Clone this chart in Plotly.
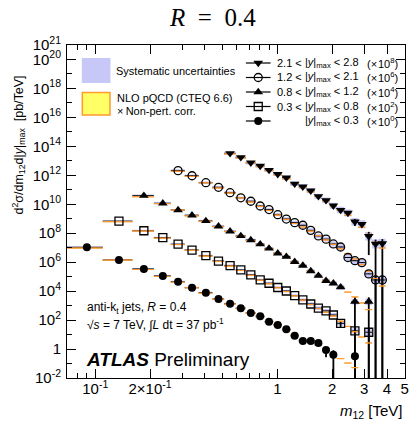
import math
import plotly.graph_objects as go

# ---------------- data ----------------
# dijet-mass bin edges [TeV]
edges = [0.07, 0.11, 0.16, 0.21, 0.26, 0.31, 0.37, 0.44, 0.51, 0.59, 0.67, 0.76,
         0.85, 0.95, 1.06, 1.18, 1.31, 1.45, 1.60, 1.76, 1.94, 2.12, 2.33, 2.55,
         2.78, 3.04, 3.31, 3.61, 3.93]

# rapidity bins (index 0 = central) and display scale exponents
y_low = [None, 0.3, 0.8, 1.2, 2.1]
y_high = [0.3, 0.8, 1.2, 2.1, 2.8]
scale_exp = [0, 2, 4, 6, 8]
first_bin = [0, 1, 2, 4, 8]

# measured cross sections d2sigma/dm12 d|y|max [pb/TeV] (unscaled), None = empty bin
xs_y00 = [1.07e7, 1.41e6, 3.4e5, 1.12e5, 4.5e4, 1.74e4, 7.8e3, 2.9e3, 1.35e3, 660, 310,
          182, 78, 46, 23, 8.3, 3.6, 3.6, 2.6, 0.87, 0.41, None, None, 0.32]
xs_y03 = [6.8e6, 1.48e6, 4.9e5, 1.74e5, 6.9e4, 2.8e4, 1.2e4, 5.8e3, 2.9e3, 1.32e3, 590,
          350, 178, 102, 49, 24.5, 12.9, 6.6, 4.3, 2.24, 0.60, None, 0.18, None, 0.145]
xs_y08 = [3.9e6, 1.17e6, 4.0e5, 1.74e5, 7.1e4, 3.0e4, 1.35e4, 6.5e3, 3.4e3, 1.74e3, 890,
          410, 240, 107, 58, 24.5, 11.7, 5.2, 3.5, 1.86, None, 0.186, None, 0.186]
xs_y12 = [2.1e6, 9.3e5, 3.1e5, 1.48e5, 6.3e4, 2.8e4, 1.62e4, 7.6e3, 4.3e3, 1.9e3, 955,
          537, 355, 158, 65, 39, 18.2, 11.2, 2.1, 1.26, 0.93, 0.155, 0.059, 0.059]
xs_y21 = [3.3e5, 1.74e5, 7.4e4, 4.4e4, 2.3e4, 1.2e4, 6.8e3, 2.6e3, 1.62e3, 870, 355,
          186, 79, 40, 25, 6.3, 4.2, 0.62, 0.18, 0.195]

# NLO pQCD (CTEQ 6.6) x non-perturbative corrections (unscaled)
nlo_y00 = [1.0e7, 1.45e6, 3.3e5, 1.1e5, 4.4e4, 1.8e4, 7.6e3, 3.0e3, 1.35e3, 650, 320,
           175, 82, 44, 22, 9.5, 4.6, 3.2, 2.0, 1.0, 0.5, 0.23, 0.115, 0.055]
nlo_y03 = [6.6e6, 1.5e6, 4.8e5, 1.75e5, 7.0e4, 2.8e4, 1.2e4, 5.7e3, 2.8e3, 1.3e3, 600,
           340, 180, 98, 50, 25, 12.5, 6.6, 3.7, 2.0, 0.89, 0.39, 0.166, 0.072, 0.028]
nlo_y08 = [3.5e6, 1.17e6, 4.2e5, 1.66e5, 7.1e4, 3.0e4, 1.38e4, 6.6e3, 3.3e3, 1.66e3, 850,
           430, 220, 110, 55, 27, 12.6, 6.0, 3.2, 1.78, 0.91, 0.42, 0.162, 0.056]
nlo_y12 = [2.0e6, 8.9e5, 3.2e5, 1.41e5, 6.3e4, 2.95e4, 1.51e4, 7.6e3, 4.0e3, 1.9e3, 955,
           500, 282, 148, 72, 36, 18.2, 8.9, 4.0, 1.78, 0.71, 0.25, 0.079, 0.024]
nlo_y21 = [3.2e5, 1.66e5, 7.9e4, 4.2e4, 2.2e4, 1.15e4, 6.0e3, 3.0e3, 1.51e3, 760, 372,
           178, 83, 40, 18.6, 7.9, 2.8, 0.89, 0.25, 0.1]

# relative systematic uncertainty per mass bin, and per-rapidity-bin multiplier
syst_rel = [0.15, 0.15, 0.15, 0.15, 0.15, 0.15, 0.15, 0.15, 0.16, 0.16, 0.17, 0.18,
            0.19, 0.2, 0.21, 0.23, 0.25, 0.27, 0.29, 0.31, 0.34, 0.37, 0.4, 0.45,
            0.5, 0.55, 0.6, 0.65]
syst_factor = [1.0, 1.1, 1.25, 1.5, 1.8]

# statistical uncertainties: default, and large ones {bin: (rel down, rel up)}; down>=1 -> reaches zero
stat_default = 0.03
stat_y00 = {19: (0.69, 0.7), 20: (1.0, 1.0), 23: (1.0, 1.0)}
stat_y03 = {21: (0.52, 0.5), 23: (1.0, 1.0), 25: (1.0, 1.0)}
stat_y08 = {23: (1.0, 1.0), 25: (1.0, 1.0)}
stat_y12 = {26: (1.0, 1.0), 27: (1.0, 1.0)}
stat_y21 = {23: (0.5, 0.5), 25: (0.95, 1.0), 26: (1.0, 1.0), 27: (1.0, 1.0)}

values = [xs_y00, xs_y03, xs_y08, xs_y12, xs_y21]
theory = [nlo_y00, nlo_y03, nlo_y08, nlo_y12, nlo_y21]
stats = [stat_y00, stat_y03, stat_y08, stat_y12, stat_y21]
symbols = ['circle', 'square-open', 'triangle-up', 'circle-open', 'triangle-down']
msizes = [8, 8, 8.5, 8, 8.5]

# ---------------- styling ----------------
W, H = 413, 426
ML, MR, MT, MB = 67, 4, 45, 48
PW = W - ML - MR
PH = H - MT - MB
FONT = "Liberation Sans"
BLUE = "#c8c8f8"
YELLOW = "#ffff66"
ORANGE = "#ff9a2e"
YMIN = 1e-2


def px(x):
    return (x - ML) / PW


def py(y):
    return (H - MB - y) / PH


fig = go.Figure()

box_traces, err_traces, nlo_traces, mark_traces = [], [], [], []
for k in range(5):
    sc = 10 ** scale_exp[k]
    bx, by, tx, ty = [], [], [], []
    cx, exm, exp_, yv, eyu, eyd = [], [], [], [], [], []
    for j, v in enumerate(values[k]):
        i = first_bin[k] + j
        if v is None:
            continue
        lo, hi = edges[i], edges[i + 1]
        c = 0.5 * (lo + hi)
        y = v * sc
        s = 1 + syst_rel[i] * syst_factor[k]
        bx += [lo, hi, hi, lo, lo, None]
        by += [y / s, y / s, y * s, y * s, y / s, None]
        dn, up = stats[k].get(i, (stat_default, stat_default))
        low_end = YMIN if dn >= 1 else y * (1 - dn)
        cx.append(c)
        exm.append(c - lo)
        exp_.append(hi - c)
        yv.append(y)
        eyu.append(y * up)
        eyd.append(y - low_end)
    for j, t in enumerate(theory[k]):
        i = first_bin[k] + j
        lo, hi = edges[i], edges[i + 1]
        y = t * sc
        tx += [lo, hi, hi, lo, lo, None]
        ty += [y / 1.06, y / 1.06, y * 1.06, y * 1.06, y / 1.06, None]
    box_traces.append(go.Scatter(x=bx, y=by, mode='lines', fill='toself', fillcolor=BLUE,
                                 line=dict(width=0, color=BLUE), hoverinfo='skip'))
    nlo_traces.append(go.Scatter(x=tx, y=ty, mode='lines', fill='toself', fillcolor=YELLOW,
                                 line=dict(width=1.0, color=ORANGE), hoverinfo='skip'))
    err_traces.append(go.Scatter(
        x=cx, y=yv, mode='markers', marker=dict(size=1, opacity=0, color='black'),
        error_x=dict(type='data', symmetric=False, array=exp_, arrayminus=exm,
                     color='black', thickness=1, width=0),
        error_y=dict(type='data', symmetric=False, array=eyu, arrayminus=eyd,
                     color='black', thickness=1.8, width=0),
        hoverinfo='skip'))
    sym = symbols[k]
    is_open = sym.endswith('open')
    mark_traces.append(go.Scatter(
        x=cx, y=yv, mode='markers',
        marker=dict(symbol=sym, size=msizes[k], color='black',
                    line=dict(width=1.3 if is_open else 0, color='black')),
        hoverinfo='skip'))

for t in box_traces + err_traces + nlo_traces + mark_traces:
    fig.add_trace(t)

# ---------------- legend (drawn on overlay axes in plot-fraction units) ----------------
row_y = [121, 106.5, 92, 77.5, 63]  # central .. forward
lx0, lx1, lxm = px(248), px(273), px(260.5)
annotations = []
for k in range(5):
    yy = py(row_y[k])
    fig.add_trace(go.Scatter(x=[lx0, lx1], y=[yy, yy], mode='lines', xaxis='x2', yaxis='y2',
                             line=dict(color='black', width=1.2), hoverinfo='skip'))
    sym = symbols[k]
    fig.add_trace(go.Scatter(x=[lxm], y=[yy], mode='markers', xaxis='x2', yaxis='y2',
                             marker=dict(symbol=sym, size=msizes[k], color='black',
                                         line=dict(width=1.3 if sym.endswith('open') else 0,
                                                   color='black')),
                             hoverinfo='skip'))
    if y_low[k] is not None:
        annotations.append(dict(x=px(306.5), y=yy, text=f"{y_low[k]} <", xanchor='right',
                                yanchor='middle', font=dict(size=11)))
    annotations.append(dict(x=px(306), y=yy, text=f"|<i>y</i>|<sub>max</sub> < {y_high[k]}",
                            xanchor='left', yanchor='middle', font=dict(size=11)))
    annotations.append(dict(x=px(404), y=yy, text=f"(×\u200a10<sup>{scale_exp[k]}</sup>)",
                            xanchor='right', yanchor='middle', font=dict(size=11)))

shapes = [
    dict(type='rect', xref='paper', yref='paper', x0=px(82), x1=px(111), y0=py(83), y1=py(58),
         fillcolor=BLUE, line=dict(width=0), layer='above'),
    dict(type='rect', xref='paper', yref='paper', x0=px(82.5), x1=px(110.5), y0=py(115), y1=py(92.5),
         fillcolor=YELLOW, line=dict(width=1.5, color=ORANGE), layer='above'),
]

annotations += [
    dict(x=px(115), y=py(70.5), text="Systematic uncertainties", xanchor='left', yanchor='middle',
         font=dict(size=11)),
    dict(x=px(116), y=py(97.5), text="NLO pQCD (CTEQ 6.6)", xanchor='left', yanchor='middle',
         font=dict(size=11)),
    dict(x=px(116), y=py(111), text="×\u2009Non-pert. corr.", xanchor='left', yanchor='middle',
         font=dict(size=11)),
    dict(x=px(85), y=py(308), text="anti-k<sub>t</sub> jets, <i>R</i> = 0.4", xanchor='left',
         yanchor='middle', font=dict(size=12)),
    dict(x=px(85), y=py(324), text="√<i>s</i> = 7 TeV, ∫<i>L</i> dt = 37 pb<sup>-1</sup>",
         xanchor='left', yanchor='middle', font=dict(size=12)),
    dict(x=px(84), y=py(359), text="<b><i>ATLAS</i></b> Preliminary", xanchor='left',
         yanchor='middle', font=dict(size=19)),
    dict(x=px(214), y=py(18), text="<i>R</i>\u00a0\u00a0=\u00a0\u00a00.4", xanchor='center',
         yanchor='middle', font=dict(size=25, family="Liberation Serif")),
    dict(x=px(18), y=py(145), text="d<sup>2</sup>σ/dm<sub>12</sub>d|<i>y</i>|<sub>max</sub>\u00a0\u00a0[pb/TeV]",
         textangle=-90, xanchor='center', yanchor='middle', font=dict(size=12.5)),
    dict(x=px(409), y=py(411), text="<i>m</i><sub>12</sub> [TeV]", xanchor='right',
         yanchor='middle', font=dict(size=15)),
]
for a in annotations:
    a.update(xref='paper', yref='paper', showarrow=False)
    a['font'].setdefault('family', FONT)
    a['font'].setdefault('color', 'black')

# ---------------- axes ----------------
y_major = [10.0 ** e for e in range(-2, 21, 2)] + [1e21]
y_text = [("1" if e == 0 else f"10<sup>{e}</sup>") for e in range(-2, 21, 2)] + ["10<sup>21</sup>"]
y_minor = [10.0 ** e for e in range(-1, 21, 2)]

x_major = [0.1, 0.2, 1, 2, 3, 4, 5]
x_text = ["10<sup>-1</sup>", "2×10<sup>-1</sup>", "1", "2", "3", "4", "5"]
x_minor = [0.08, 0.09, 0.3, 0.4, 0.5, 0.6, 0.7, 0.8, 0.9]

fig.update_layout(
    width=W, height=H,
    margin=dict(l=ML, r=MR, t=MT, b=MB),
    paper_bgcolor='white', plot_bgcolor='white',
    showlegend=False,
    font=dict(family=FONT, color='black'),
    shapes=shapes, annotations=annotations,
    xaxis=dict(type='log', range=[math.log10(0.07), math.log10(5.02)],
               tickvals=x_major, ticktext=x_text, ticks='inside', ticklen=9, tickwidth=1,
               tickcolor='black', showline=True, linecolor='black', linewidth=1, mirror='ticks',
               showgrid=False, zeroline=False, tickfont=dict(size=15, family=FONT),
               ticklabelstandoff=-3,
               minor=dict(tickvals=x_minor, ticks='inside', ticklen=5, tickcolor='black',
                          showgrid=False)),
    yaxis=dict(type='log', range=[-2, 21],
               tickvals=y_major, ticktext=y_text, ticks='inside', ticklen=9, tickwidth=1,
               tickcolor='black', showline=True, linecolor='black', linewidth=1, mirror='ticks',
               showgrid=False, zeroline=False, tickfont=dict(size=15, family=FONT),
               ticklabelstandoff=2,
               minor=dict(tickvals=y_minor, ticks='inside', ticklen=5, tickcolor='black',
                          showgrid=False)),
    xaxis2=dict(overlaying='x', range=[0, 1], visible=False, fixedrange=True),
    yaxis2=dict(overlaying='y', range=[0, 1], visible=False, fixedrange=True),
)

fig.write_html("out.html", config={'displayModeBar': False},
               post_script="document.body.style.margin='0';document.body.style.padding='0';")
